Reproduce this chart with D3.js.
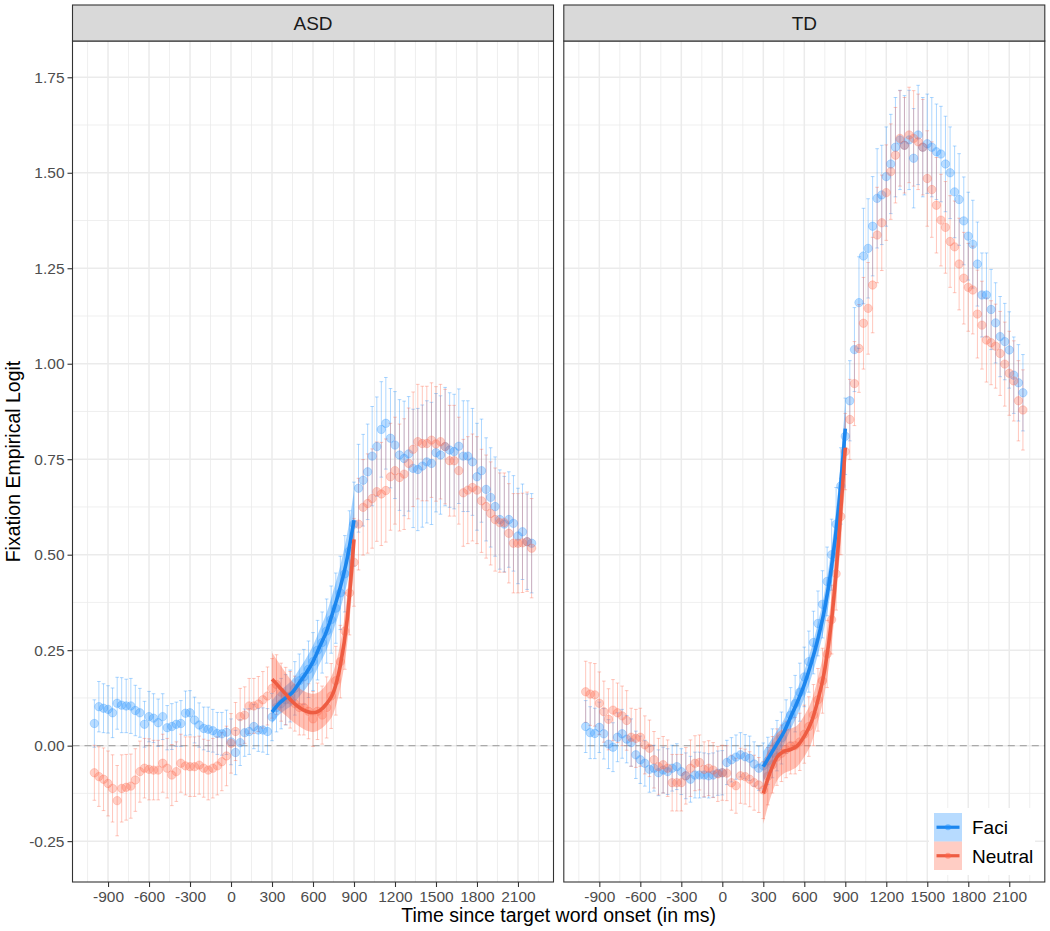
<!DOCTYPE html>
<html>
<head>
<meta charset="utf-8">
<script src="https://cdn.jsdelivr.net/npm/d3@7"></script>
<style>
body { margin: 0; background: #fff; }
svg text { font-family: "Liberation Sans", Arial, sans-serif; }
</style>
</head>
<body>
<svg id="chart" width="1050" height="931"></svg>
<script>
// time bins (ms since target word onset)
var times = [-1000,-967,-933,-900,-867,-833,-800,-767,-733,-700,-667,-633,-600,-567,-533,-500,-467,-433,-400,-367,
  -333,-300,-267,-233,-200,-167,-133,-100,-67,-33,0,33,67,100,133,167,200,233,267,300,
  333,367,400,433,467,500,533,567,600,633,667,700,733,767,800,833,867,900,933,967,
  1000,1033,1067,1100,1133,1167,1200,1233,1267,1300,1333,1367,1400,1433,1467,1500,1533,1567,1600,1633,
  1667,1700,1733,1767,1800,1833,1867,1900,1933,1967,2000,2033,2067,2100,2133,2167,2200];

var asdFaci = [0.058,0.102,0.098,0.095,0.086,0.111,0.106,0.104,0.104,0.092,
  0.086,0.056,0.076,0.072,0.060,0.076,0.047,0.050,0.056,0.058,
  0.085,0.086,0.067,0.054,0.045,0.043,0.039,0.032,0.031,0.035,
  0.010,-0.018,0.008,0.034,0.037,0.050,0.041,0.041,0.037,
  0.075,0.10,0.11,0.12,0.13,0.15,0.17,0.18,0.20,0.22,0.25,0.27,0.30,0.33,0.36,0.40,0.45,0.51,0.58,
  0.674,0.695,0.717,0.758,0.783,0.828,0.844,0.805,0.787,0.761,0.752,0.764,0.726,0.723,0.732,0.743,0.739,0.767,0.761,0.783,
  0.774,0.770,0.784,0.758,0.758,0.743,0.704,0.720,0.671,0.650,0.626,0.592,0.580,0.592,0.582,0.549,0.560,0.534,0.530];
var asdFaciCi = [0.062,0.066,0.064,0.062,0.065,0.068,0.072,0.070,0.072,0.066,0.064,0.060,0.066,0.064,0.062,0.060,0.058,0.060,0.058,0.060,
  0.058,0.058,0.060,0.058,0.056,0.058,0.056,0.055,0.056,0.058,0.060,0.058,0.060,0.062,0.060,0.058,0.056,0.058,0.060,
  0.062,0.064,0.066,0.066,0.068,0.070,0.070,0.072,0.074,0.076,0.078,0.080,0.084,0.088,0.092,0.096,0.100,0.105,0.110,
  0.115,0.120,0.125,0.130,0.130,0.125,0.120,0.130,0.140,0.145,0.150,0.150,0.155,0.160,0.160,0.160,0.160,0.155,0.155,0.155,
  0.150,0.150,0.150,0.145,0.145,0.140,0.140,0.135,0.135,0.130,0.130,0.130,0.125,0.125,0.125,0.125,0.125,0.125,0.130];

var asdNeutral = [-0.071,-0.081,-0.088,-0.099,-0.112,-0.144,-0.112,-0.109,-0.106,-0.090,
  -0.068,-0.059,-0.062,-0.064,-0.064,-0.046,-0.059,-0.077,-0.068,-0.046,
  -0.053,-0.055,-0.055,-0.051,-0.059,-0.064,-0.059,-0.053,-0.042,-0.027,
  0.006,0.037,0.076,0.080,0.104,0.104,0.109,0.120,0.130,
  0.15,0.16,0.14,0.13,0.12,0.11,0.10,0.10,0.09,0.07,0.09,0.08,0.10,0.13,0.17,0.22,0.30,0.40,0.48,
  0.580,0.624,0.634,0.647,0.665,0.659,0.668,0.704,0.720,0.702,0.711,0.739,0.776,0.796,0.791,0.791,0.800,0.790,0.796,0.783,
  0.746,0.746,0.720,0.662,0.669,0.676,0.669,0.641,0.626,0.608,0.592,0.584,0.584,0.556,0.530,0.530,0.531,0.534,0.517];
var asdNeutralCi = [0.072,0.078,0.082,0.085,0.088,0.092,0.088,0.086,0.084,0.082,0.080,0.078,0.080,0.078,0.078,0.076,0.078,0.080,0.078,0.076,
  0.076,0.078,0.078,0.076,0.076,0.078,0.078,0.076,0.076,0.078,0.078,0.076,0.074,0.074,0.072,0.072,0.072,0.074,0.076,
  0.078,0.078,0.076,0.075,0.074,0.072,0.072,0.072,0.072,0.072,0.074,0.076,0.080,0.085,0.090,0.095,0.100,0.110,0.115,
  0.120,0.125,0.130,0.130,0.130,0.135,0.135,0.140,0.140,0.140,0.145,0.145,0.150,0.150,0.150,0.150,0.150,0.150,0.150,0.150,
  0.145,0.145,0.140,0.140,0.140,0.140,0.140,0.135,0.135,0.135,0.135,0.130,0.130,0.130,0.130,0.130,0.130,0.130,0.130];

var tdFaci = [0.050,0.034,0.032,0.048,0.031,0.004,-0.004,0.022,0.031,0.017,
  0.008,-0.024,-0.037,-0.046,-0.062,-0.059,-0.071,-0.064,-0.068,-0.059,
  -0.055,-0.068,-0.079,-0.088,-0.077,-0.077,-0.077,-0.079,-0.077,-0.072,
  -0.071,-0.044,-0.037,-0.030,-0.024,-0.029,-0.033,-0.048,-0.059,
  -0.053,-0.04,-0.02,0.00,0.02,0.05,0.08,0.11,0.14,0.18,0.22,0.27,0.32,0.37,0.43,0.50,0.58,0.68,0.81,
  0.903,1.037,1.160,1.282,1.302,1.360,1.433,1.442,1.490,1.523,1.567,1.586,1.572,1.586,1.538,1.599,1.567,1.576,1.567,1.555,
  1.549,1.523,1.500,1.450,1.430,1.374,1.334,1.313,1.261,1.180,1.180,1.142,1.107,1.071,1.058,1.036,0.970,0.950,0.924];
var tdFaciCi = [0.068,0.068,0.066,0.066,0.066,0.064,0.064,0.064,0.064,0.062,0.062,0.062,0.062,0.060,0.060,0.060,0.060,0.060,0.060,0.060,
  0.060,0.060,0.060,0.060,0.060,0.060,0.058,0.058,0.058,0.058,0.058,0.058,0.058,0.058,0.058,0.058,0.058,0.058,0.058,
  0.060,0.062,0.064,0.066,0.068,0.070,0.072,0.074,0.076,0.078,0.080,0.082,0.085,0.088,0.090,0.093,0.096,0.100,0.100,
  0.105,0.110,0.120,0.125,0.130,0.130,0.130,0.130,0.130,0.130,0.130,0.130,0.130,0.130,0.130,0.130,0.130,0.130,0.130,0.125,
  0.125,0.125,0.120,0.120,0.120,0.115,0.115,0.115,0.110,0.110,0.110,0.105,0.105,0.105,0.100,0.100,0.100,0.100,0.100];

var tdNeutral = [0.141,0.135,0.133,0.111,0.089,0.069,0.093,0.086,0.078,0.066,
  0.022,0.019,0.022,0.002,-0.007,-0.037,-0.055,-0.050,-0.059,-0.097,
  -0.097,-0.097,-0.079,-0.059,-0.046,-0.044,-0.062,-0.059,-0.064,-0.074,
  -0.071,-0.072,-0.097,-0.105,-0.079,-0.081,-0.088,-0.097,-0.103,
  -0.116,-0.08,-0.05,-0.03,-0.02,-0.01,0.00,0.00,0.01,0.03,0.05,0.08,0.12,0.17,0.24,0.33,0.45,0.60,0.77,
  0.854,0.948,1.040,1.106,1.145,1.206,1.337,1.369,1.448,1.503,1.546,1.590,1.572,1.599,1.590,1.581,1.567,1.485,1.456,1.415,
  1.376,1.357,1.320,1.306,1.261,1.224,1.200,1.193,1.130,1.101,1.062,1.055,1.046,1.027,0.999,0.975,0.955,0.903,0.879];
var tdNeutralCi = [0.080,0.082,0.082,0.082,0.080,0.080,0.080,0.078,0.078,0.078,0.076,0.076,0.076,0.076,0.074,0.074,0.074,0.074,0.074,0.074,
  0.074,0.074,0.074,0.074,0.072,0.072,0.072,0.072,0.072,0.072,0.072,0.072,0.072,0.072,0.072,0.072,0.072,0.072,0.072,
  0.075,0.075,0.074,0.074,0.074,0.074,0.074,0.074,0.075,0.076,0.078,0.080,0.082,0.085,0.088,0.090,0.095,0.100,0.100,
  0.105,0.110,0.115,0.120,0.120,0.125,0.125,0.125,0.125,0.125,0.125,0.125,0.125,0.125,0.125,0.125,0.125,0.125,0.125,0.125,
  0.120,0.120,0.120,0.120,0.120,0.120,0.115,0.115,0.115,0.115,0.110,0.110,0.110,0.110,0.110,0.110,0.105,0.105,0.105];

// model fits, 300-900 ms
var fitTimes = [300,350,400,450,500,550,600,650,700,750,800,850,900];
var asdFaciFit = [0.088,0.11,0.125,0.14,0.165,0.19,0.22,0.26,0.30,0.355,0.415,0.49,0.59];
var asdFaciBand = [0.03,0.03,0.031,0.033,0.036,0.039,0.042,0.045,0.048,0.052,0.057,0.064,0.078];
var asdNeutralFit = [0.174,0.155,0.135,0.115,0.10,0.09,0.086,0.092,0.11,0.14,0.21,0.33,0.54];
var asdNeutralBand = [0.07,0.062,0.056,0.052,0.05,0.05,0.05,0.05,0.052,0.055,0.058,0.063,0.075];
var tdFaciFit = [-0.055,-0.025,0.005,0.035,0.075,0.115,0.16,0.215,0.28,0.36,0.47,0.62,0.83];
var tdFaciBand = [0.04,0.036,0.034,0.033,0.033,0.034,0.036,0.038,0.041,0.045,0.05,0.058,0.07];
var tdNeutralFit = [-0.125,-0.07,-0.03,-0.015,-0.01,0.0,0.025,0.06,0.12,0.20,0.33,0.53,0.78];
var tdNeutralBand = [0.08,0.07,0.062,0.058,0.055,0.054,0.054,0.055,0.057,0.06,0.065,0.072,0.085];

var xTicks = [-900,-600,-300,0,300,600,900,1200,1500,1800,2100];
var yTicks = [-0.25,0,0.25,0.5,0.75,1,1.25,1.5,1.75];
var xMinor = [-1050,-750,-450,-150,150,450,750,1050,1350,1650,1950,2250];
var yMinor = [-0.125,0.125,0.375,0.625,0.875,1.125,1.375,1.625];
var conditions = ["Faci", "Neutral"];

var col = {Faci: "#1E90FF", Neutral: "#FF6347"};
var lineCol = {Faci: "#1C86EE", Neutral: "#EE5C42"};

var panels = [
  {name: "ASD", x0: 72.5, series: [
    {cond: "Faci", mean: asdFaci, ci: asdFaciCi, fit: asdFaciFit, band: asdFaciBand},
    {cond: "Neutral", mean: asdNeutral, ci: asdNeutralCi, fit: asdNeutralFit, band: asdNeutralBand}]},
  {name: "TD", x0: 563.8, series: [
    {cond: "Faci", mean: tdFaci, ci: tdFaciCi, fit: tdFaciFit, band: tdFaciBand},
    {cond: "Neutral", mean: tdNeutral, ci: tdNeutralCi, fit: tdNeutralFit, band: tdNeutralBand}]}
];

var chart = {};
chart.pw = 481;
chart.ptop = 41;
chart.pbottom = 882;
chart.stripTop = 5;

chart.draw = function(){
var pw = chart.pw, ptop = chart.ptop, pbottom = chart.pbottom, stripTop = chart.stripTop;
var svg = d3.select("#chart");
var fmt = function(d){ return String(d); };

var y = d3.scaleLinear().domain([-0.357, 1.845]).range([pbottom, ptop]);

panels.forEach(function(p){
  var x = d3.scaleLinear().domain([-1160, 2360]).range([p.x0, p.x0 + pw]);
  var g = svg.append("g");

  g.append("rect").attr("x", p.x0).attr("y", ptop).attr("width", pw).attr("height", pbottom - ptop).attr("fill", "#fff");

  // grid
  g.append("g").selectAll("line").data(xMinor).enter().append("line")
    .attr("x1", d => x(d)).attr("x2", d => x(d)).attr("y1", ptop).attr("y2", pbottom)
    .attr("stroke", "#ebebeb").attr("stroke-width", 0.8);
  g.append("g").selectAll("line").data(yMinor).enter().append("line")
    .attr("x1", p.x0).attr("x2", p.x0 + pw).attr("y1", d => y(d)).attr("y2", d => y(d))
    .attr("stroke", "#ebebeb").attr("stroke-width", 0.8);
  g.append("g").selectAll("line").data(xTicks).enter().append("line")
    .attr("x1", d => x(d)).attr("x2", d => x(d)).attr("y1", ptop).attr("y2", pbottom)
    .attr("stroke", "#ebebeb").attr("stroke-width", 1.5);
  g.append("g").selectAll("line").data(yTicks).enter().append("line")
    .attr("x1", p.x0).attr("x2", p.x0 + pw).attr("y1", d => y(d)).attr("y2", d => y(d))
    .attr("stroke", "#ebebeb").attr("stroke-width", 1.5);

  // zero reference
  g.append("line").attr("x1", p.x0).attr("x2", p.x0 + pw).attr("y1", y(0)).attr("y2", y(0))
    .attr("stroke", "#aaaaaa").attr("stroke-width", 1.3).attr("stroke-dasharray", "7,5");

  // error bars
  p.series.forEach(function(s){
    var pts = times.map(function(t, i){ return {t: t, m: s.mean[i], c: s.ci[i]}; });
    var eb = g.append("g").attr("stroke", col[s.cond]).attr("stroke-opacity", 0.36).attr("stroke-width", 1);
    eb.append("g").selectAll("line").data(pts).enter().append("line")
      .attr("x1", d => x(d.t)).attr("x2", d => x(d.t))
      .attr("y1", d => y(d.m - d.c)).attr("y2", d => y(d.m + d.c));
    eb.append("g").selectAll("line").data(pts).enter().append("line")
      .attr("x1", d => x(d.t) - 1.8).attr("x2", d => x(d.t) + 1.8)
      .attr("y1", d => y(d.m + d.c)).attr("y2", d => y(d.m + d.c));
    eb.append("g").selectAll("line").data(pts).enter().append("line")
      .attr("x1", d => x(d.t) - 1.8).attr("x2", d => x(d.t) + 1.8)
      .attr("y1", d => y(d.m - d.c)).attr("y2", d => y(d.m - d.c));
  });
  // points
  p.series.forEach(function(s){
    var pts = times.map(function(t, i){ return {t: t, m: s.mean[i]}; });
    g.append("g").selectAll("circle").data(pts).enter().append("circle")
      .attr("cx", d => x(d.t)).attr("cy", d => y(d.m)).attr("r", 4.2)
      .attr("fill", col[s.cond]).attr("fill-opacity", 0.3)
      .attr("stroke", col[s.cond]).attr("stroke-opacity", 0.3).attr("stroke-width", 0.8);
  });

  // fitted curves with bands
  p.series.forEach(function(s){
    var f = fitTimes.map(function(t, i){ return {t: t, v: s.fit[i], b: s.band[i]}; });
    g.append("path").datum(f)
      .attr("d", d3.area().curve(d3.curveMonotoneX).x(d => x(d.t)).y0(d => y(d.v - d.b)).y1(d => y(d.v + d.b)))
      .attr("fill", col[s.cond]).attr("fill-opacity", 0.4);
  });
  p.series.forEach(function(s){
    var f = fitTimes.map(function(t, i){ return {t: t, v: s.fit[i]}; });
    g.append("path").datum(f)
      .attr("d", d3.line().curve(d3.curveMonotoneX).x(d => x(d.t)).y(d => y(d.v)))
      .attr("fill", "none").attr("stroke", lineCol[s.cond]).attr("stroke-width", 3.6);
  });

  // border
  g.append("rect").attr("x", p.x0).attr("y", ptop).attr("width", pw).attr("height", pbottom - ptop)
    .attr("fill", "none").attr("stroke", "#333333").attr("stroke-width", 1.1);

  // strip
  g.append("rect").attr("x", p.x0).attr("y", stripTop).attr("width", pw).attr("height", ptop - stripTop)
    .attr("fill", "#d9d9d9").attr("stroke", "#333333").attr("stroke-width", 1.1);
  g.append("text").attr("x", p.x0 + pw / 2).attr("y", (stripTop + ptop) / 2).attr("dy", "0.36em")
    .attr("text-anchor", "middle").attr("font-size", 19).attr("fill", "#1a1a1a").text(p.name);

  // x axis
  var xa = g.append("g").attr("transform", "translate(0," + pbottom + ")")
    .call(d3.axisBottom(x).tickValues(xTicks).tickSize(5).tickPadding(4).tickFormat(fmt));
  xa.select(".domain").remove();
  xa.selectAll("line").attr("stroke", "#333333").attr("stroke-width", 1.1);
  xa.selectAll("text").attr("font-size", 15.5).attr("fill", "#4d4d4d").attr("font-family", "Liberation Sans, Arial, sans-serif");
});

// y axis on first panel
var ya = svg.append("g").attr("transform", "translate(" + panels[0].x0 + ",0)")
  .call(d3.axisLeft(y).tickValues(yTicks).tickSize(5).tickPadding(3).tickFormat(function(d){ return d.toFixed(2); }));
ya.select(".domain").remove();
ya.selectAll("line").attr("stroke", "#333333").attr("stroke-width", 1.1);
ya.selectAll("text").attr("font-size", 15.5).attr("fill", "#4d4d4d").attr("font-family", "Liberation Sans, Arial, sans-serif");

// axis titles
svg.append("text").attr("x", (panels[0].x0 + panels[1].x0 + pw) / 2).attr("y", 922)
  .attr("text-anchor", "middle").attr("font-size", 19.5).attr("fill", "#000")
  .text("Time since target word onset (in ms)");
svg.append("text").attr("transform", "translate(20," + ((ptop + pbottom) / 2) + ") rotate(-90)")
  .attr("text-anchor", "middle").attr("font-size", 19.5).attr("fill", "#000")
  .text("Fixation Empirical Logit");

// legend inside TD panel
var lg = svg.append("g").attr("transform", "translate(934,813)");
lg.append("rect").attr("x", -5).attr("y", -5).attr("width", 106).attr("height", 67).attr("fill", "#fff");
conditions.forEach(function(c, i){
  var ky = i * 28.5;
  lg.append("rect").attr("x", 0).attr("y", ky).attr("width", 28).attr("height", 28.5)
    .attr("fill", col[c]).attr("fill-opacity", 0.32);
  lg.append("line").attr("x1", 2.5).attr("x2", 25.5).attr("y1", ky + 14.25).attr("y2", ky + 14.25)
    .attr("stroke", lineCol[c]).attr("stroke-width", 3.2);
  lg.append("circle").attr("cx", 14).attr("cy", ky + 14.25).attr("r", 3)
    .attr("fill", col[c]).attr("fill-opacity", 0.5);
  lg.append("text").attr("x", 38).attr("y", ky + 14.25).attr("dy", "0.36em")
    .attr("font-size", 19).attr("fill", "#000").text(c);
});
};
chart.draw();
</script>
</body>
</html>
